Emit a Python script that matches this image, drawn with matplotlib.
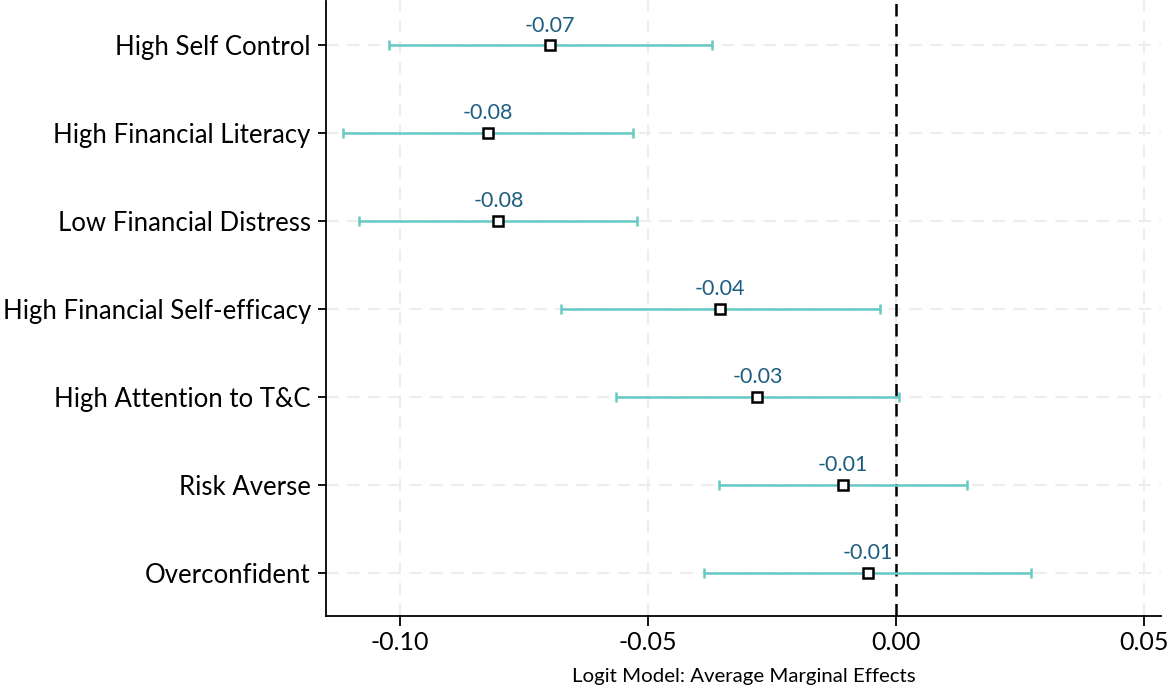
import matplotlib
matplotlib.use('Agg')
import matplotlib.pyplot as plt
import numpy as np

plt.rcParams['font.family'] = ['Lato', 'DejaVu Sans']

# Average marginal effects with 95% confidence intervals
labels = ['High Self Control', 'High Financial Literacy', 'Low Financial Distress',
          'High Financial Self-efficacy', 'High Attention to T&C', 'Risk Averse', 'Overconfident']
effects = [-0.0698, -0.0823, -0.0802, -0.0355, -0.0280, -0.0107, -0.0058]
ci_low = [-0.1022, -0.1115, -0.1083, -0.0675, -0.0565, -0.0357, -0.0387]
ci_high = [-0.0371, -0.0530, -0.0522, -0.0032, 0.0006, 0.0143, 0.0272]
xticks = [-0.10, -0.05, 0.00, 0.05]

teal = '#66c9c4'
label_col = '#1d5e80'

fig = plt.figure(figsize=(11.69, 6.88), dpi=100)
ax = fig.add_axes([0.279, 0.104, 0.714, 0.894])

y = np.arange(len(labels))
eff = np.array(effects)
err = [eff - np.array(ci_low), np.array(ci_high) - eff]

ax.errorbar(eff, y, xerr=err, fmt='none', ecolor=teal, elinewidth=1.8,
            capsize=3.6, capthick=1.8, zorder=3)
ax.plot(eff, y, 's', ms=7, mfc='white', mec='black', mew=1.8, zorder=4)

for xi, yi in zip(eff, y):
    ax.annotate(f'{xi:.2f}', (xi, yi), xytext=(0, 7), textcoords='offset points',
                ha='center', va='bottom', fontsize=15.5, color=label_col)

ax.axvline(0, color='black', ls=(0, (5, 3)), lw=1.8, zorder=2)

ax.set_yticks(y)
ax.set_yticklabels(labels, fontsize=18.5)
ax.set_ylim(6.5, -0.5)
ax.set_xticks(xticks)
ax.set_xticklabels([f'{t:.2f}' for t in xticks], fontsize=18)
ax.set_xlim(-0.1149, 0.0533)
ax.set_xlabel('Logit Model: Average Marginal Effects', fontsize=14.7, labelpad=10)

ax.grid(True, color='#ededed', ls=(0, (6, 4)), lw=1.5, zorder=0)
ax.set_axisbelow(True)
for s in ['top', 'right']:
    ax.spines[s].set_visible(False)
for s in ['left', 'bottom']:
    ax.spines[s].set_linewidth(1.3)
ax.tick_params(axis='y', length=6, width=1.3, pad=5)
ax.tick_params(axis='x', length=7.5, width=1.3, pad=3)

fig.savefig('out.png', dpi=100)
